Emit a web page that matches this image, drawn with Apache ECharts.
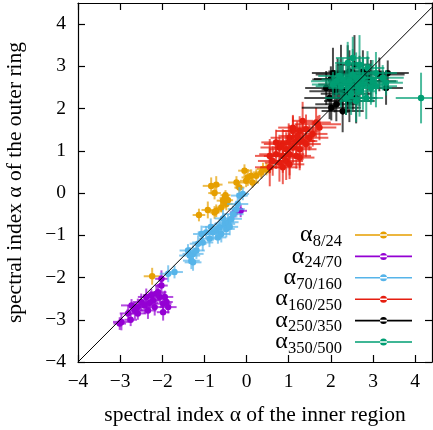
<!DOCTYPE html>
<html>
<head>
<meta charset="utf-8">
<script src="https://cdn.jsdelivr.net/npm/echarts@6/dist/echarts.min.js"></script>
<style>
  html, body { margin: 0; padding: 0; background: #fff; }
  #chart { width: 433px; height: 430px; }
</style>
</head>
<body>
<div id="chart"></div>
<script>
// each point: [x, y, x error, y error]
const a8_24 = [
  [-1.13, -0.52, 0.15, 0.15], [-0.92, -0.40, 0.15, 0.2], [-0.76, -0.46, 0.12, 0.15],
  [-0.72, -0.42, 0.15, 0.15], [-0.84, 0.17, 0.2, 0.2], [-0.72, 0.20, 0.15, 0.2],
  [-0.76, 0.0, 0.15, 0.15], [-0.56, -0.18, 0.15, 0.15], [-0.52, -0.12, 0.12, 0.15],
  [-0.48, -0.26, 0.15, 0.15], [-0.60, -0.34, 0.12, 0.12], [-0.44, -0.17, 0.12, 0.12],
  [-0.50, -0.05, 0.12, 0.12], [-0.24, 0.25, 0.2, 0.15], [-0.17, 0.13, 0.12, 0.15],
  [-0.05, 0.53, 0.15, 0.15], [0.03, 0.37, 0.15, 0.2], [0.11, 0.41, 0.12, 0.15],
  [-0.01, 0.29, 0.15, 0.15], [0.23, 0.41, 0.15, 0.15], [0.35, 0.49, 0.2, 0.15],
  [0.47, 0.57, 0.15, 0.15], [0.14, 0.25, 0.15, 0.12], [0.55, 0.62, 0.15, 0.15],
  [0.39, 0.57, 0.15, 0.15], [-2.24, -1.97, 0.2, 0.2]
]
const a24_70 = [
  [-0.28, -0.46, 0.12, 0.12], [-0.14, -0.42, 0.15, 0.15], [-2.02, -2.03, 0.15, 0.2],
  [-2.02, -2.19, 0.15, 0.15], [-2.14, -2.38, 0.2, 0.2], [-2.26, -2.42, 0.2, 0.15],
  [-2.38, -2.46, 0.2, 0.2], [-2.06, -2.46, 0.2, 0.15], [-1.94, -2.46, 0.2, 0.15],
  [-2.22, -2.54, 0.2, 0.2], [-2.50, -2.58, 0.2, 0.2], [-2.42, -2.66, 0.25, 0.2],
  [-2.58, -2.70, 0.2, 0.2], [-2.65, -2.78, 0.2, 0.2], [-2.73, -2.66, 0.25, 0.15],
  [-1.98, -2.62, 0.2, 0.2], [-1.86, -2.70, 0.2, 0.15], [-2.18, -2.70, 0.2, 0.2],
  [-1.98, -2.82, 0.15, 0.2], [-2.34, -2.78, 0.2, 0.2], [-2.81, -2.85, 0.2, 0.2],
  [-2.58, -2.85, 0.2, 0.15], [-2.75, -3.00, 0.15, 0.15], [-2.97, -3.05, 0.2, 0.2],
  [-3.01, -3.09, 0.15, 0.15], [-1.90, -2.58, 0.15, 0.15], [-2.30, -2.60, 0.2, 0.2],
  [-2.10, -2.35, 0.2, 0.2]
]
const a70_160 = [
  [-1.71, -1.87, 0.2, 0.15], [-1.86, -1.91, 0.2, 0.2], [-1.31, -1.60, 0.2, 0.2],
  [-1.27, -1.44, 0.25, 0.2], [-1.39, -1.36, 0.2, 0.15], [-1.19, -1.36, 0.2, 0.2],
  [-1.04, -1.17, 0.25, 0.2], [-1.07, -0.97, 0.2, 0.2], [-0.88, -1.08, 0.25, 0.2],
  [-0.80, -0.93, 0.25, 0.2], [-0.72, -0.89, 0.2, 0.2], [-0.64, -0.81, 0.25, 0.2],
  [-0.60, -0.97, 0.2, 0.2], [-0.52, -0.73, 0.25, 0.2], [-0.44, -0.69, 0.25, 0.2],
  [-0.36, -0.61, 0.25, 0.2], [-0.48, -0.85, 0.2, 0.2], [-0.68, -1.05, 0.2, 0.15],
  [-0.32, -0.50, 0.25, 0.2], [-0.24, -0.38, 0.2, 0.2], [-0.21, -0.26, 0.25, 0.2],
  [-1.35, -1.48, 0.25, 0.2], [-0.96, -0.93, 0.2, 0.15], [-1.27, -1.64, 0.2, 0.2],
  [-0.17, -0.06, 0.2, 0.2], [-0.09, -0.02, 0.15, 0.15], [-0.56, -0.60, 0.2, 0.2],
  [-0.40, -0.80, 0.2, 0.2], [-1.15, -1.20, 0.2, 0.2], [-0.85, -0.80, 0.2, 0.2]
]
const a160_250 = [
  [1.65, 1.67, 0.35, 0.35], [1.33, 1.71, 0.25, 0.45], [1.26, 1.47, 0.4, 0.35],
  [1.10, 1.47, 0.4, 0.35], [1.02, 1.31, 0.45, 0.3], [1.18, 1.23, 0.45, 0.4],
  [1.33, 1.23, 0.35, 0.45], [1.49, 1.31, 0.45, 0.3], [0.86, 1.16, 0.45, 0.35],
  [0.78, 1.08, 0.45, 0.3], [0.94, 1.04, 0.4, 0.4], [1.10, 1.08, 0.45, 0.35],
  [1.26, 1.04, 0.4, 0.45], [1.41, 1.16, 0.35, 0.3], [0.70, 0.92, 0.4, 0.35],
  [0.55, 0.88, 0.35, 0.4], [0.86, 0.88, 0.45, 0.4], [1.02, 0.92, 0.35, 0.5],
  [1.18, 0.88, 0.35, 0.3], [0.78, 0.72, 0.35, 0.45], [0.62, 0.76, 0.35, 0.35],
  [0.94, 0.76, 0.4, 0.45], [1.10, 1.55, 0.35, 0.3], [1.41, 1.51, 0.25, 0.35],
  [0.86, 0.61, 0.35, 0.4], [1.02, 0.68, 0.35, 0.35], [0.55, 0.61, 0.35, 0.45],
  [1.26, 0.84, 0.35, 0.3], [1.57, 1.40, 0.35, 0.3], [1.73, 1.55, 0.4, 0.3],
  [1.69, 1.63, 0.55, 0.2], [0.70, 1.20, 0.35, 0.3], [1.00, 1.20, 0.35, 0.45],
  [1.20, 1.35, 0.4, 0.35]
]
const a250_350 = [
  [2.05, 2.84, 0.5, 0.6], [2.24, 2.81, 0.6, 0.7], [2.44, 2.88, 0.5, 0.5],
  [3.35, 2.84, 0.5, 0.3], [3.15, 2.81, 0.6, 0.4], [2.09, 2.41, 0.6, 0.5],
  [1.97, 2.25, 0.6, 0.5], [2.28, 2.45, 0.5, 0.6], [2.01, 2.02, 0.7, 0.3],
  [2.13, 2.10, 0.5, 0.4], [2.36, 2.35, 0.6, 0.5], [2.52, 2.57, 0.5, 0.6],
  [2.68, 2.65, 0.6, 0.6], [2.87, 2.73, 0.5, 0.5], [2.95, 2.65, 0.6, 0.5],
  [2.60, 2.25, 0.5, 0.6], [2.44, 2.18, 0.6, 0.5], [2.20, 2.57, 0.5, 0.5],
  [1.89, 2.49, 0.5, 0.4], [2.76, 2.88, 0.5, 0.5], [2.56, 3.04, 0.4, 0.7],
  [2.16, 2.69, 0.6, 0.5], [3.31, 2.49, 0.4, 0.4], [2.28, 1.94, 0.5, 0.5],
  [2.00, 2.70, 0.4, 0.3], [2.40, 2.70, 0.5, 0.8]
]
const a350_500 = [
  [4.14, 2.25, 0.6, 0.6], [2.52, 3.20, 0.4, 0.5], [2.44, 2.65, 0.5, 0.5],
  [2.60, 2.73, 0.6, 0.6], [2.28, 2.69, 0.5, 0.5], [2.13, 2.65, 0.6, 0.4],
  [2.76, 2.57, 0.5, 0.6], [2.99, 2.65, 0.6, 0.5], [3.07, 2.53, 0.5, 0.5],
  [2.68, 2.41, 0.4, 0.6], [2.44, 2.49, 0.5, 0.5], [2.24, 2.53, 0.6, 0.5],
  [2.36, 2.61, 0.5, 0.4], [2.52, 2.81, 0.4, 0.6], [2.87, 2.96, 0.4, 0.4],
  [2.68, 3.04, 0.3, 0.7], [2.40, 3.08, 0.3, 0.5], [2.60, 2.18, 0.4, 0.5],
  [2.84, 2.25, 0.4, 0.5], [2.36, 2.25, 0.5, 0.4], [2.05, 2.57, 0.5, 0.3],
  [3.07, 2.84, 0.5, 0.5], [3.23, 2.73, 0.5, 0.3], [3.31, 2.61, 0.4, 0.3],
  [2.20, 2.77, 0.5, 0.4], [2.76, 2.73, 0.5, 0.5], [2.48, 2.35, 0.4, 0.5],
  [2.64, 2.57, 0.6, 0.5], [2.95, 2.49, 0.5, 0.4]
]
// 1:1 line
const diagX = [-4, 4.4]

const seriesNames = ['8/24', '24/70', '70/160', '160/250', '250/350', '350/500']
const seriesData = [a8_24, a24_70, a70_160, a160_250, a250_350, a350_500]
const seriesColors = ['#e69f00', '#9400d3', '#56b4e9', '#e51e10', '#000000', '#009e73']

const FONT = 'Liberation Serif'
const chart = echarts.init(document.getElementById('chart'))

// cross shaped error bars with a dot in the middle
function renderErr(params, api) {
  const x = api.value(0), y = api.value(1)
  const xe = api.value(2), ye = api.value(3)
  const c = api.coord([x, y])
  const l = api.coord([x - xe, y]), r = api.coord([x + xe, y])
  const t = api.coord([x, y + ye]), b = api.coord([x, y - ye])
  const color = api.visual('color')
  return {
    type: 'group',
    children: [
      { type: 'line', shape: { x1: l[0], y1: l[1], x2: r[0], y2: r[1] }, style: { stroke: color, lineWidth: 2, opacity: 0.7 } },
      { type: 'line', shape: { x1: t[0], y1: t[1], x2: b[0], y2: b[1] }, style: { stroke: color, lineWidth: 2, opacity: 0.7 } },
      { type: 'circle', shape: { cx: c[0], cy: c[1], r: 3.2 }, style: { fill: color } }
    ]
  }
}

function tickFmt(v) {
  return v < 0 ? '\u2212' + Math.abs(v) : String(v)
}

const axisCommon = {
  type: 'value',
  interval: 1,
  splitLine: { show: false },
  axisLine: { show: true, onZero: false, lineStyle: { color: '#000', width: 1.2 } },
  axisTick: { show: true, inside: true, length: 7, lineStyle: { color: '#000', width: 1.2 } }
}

const legendIcon = 'path://M0,3.2 L57,3.2 L57,4.8 L0,4.8 Z M25,4 A3.5,3.5 0 1 0 32,4 A3.5,3.5 0 1 0 25,4 Z'

const legends = seriesNames.map((n, i) => ({
  data: [n],
  right: 16,
  top: 218 + i * 21.4,
  align: 'right',
  itemWidth: 57,
  itemHeight: 7,
  icon: legendIcon,
  selectedMode: false,
  formatter: name => '{a|\u03b1}{s|' + name + '}',
  textStyle: {
    fontFamily: FONT,
    color: '#000',
    rich: {
      a: { fontFamily: FONT, fontSize: 24, lineHeight: 30, color: '#000' },
      s: { fontFamily: FONT, fontSize: 16.5, lineHeight: 16, verticalAlign: 'bottom', padding: [0, 8, 0, 0], color: '#000' }
    }
  }
}))

const series = seriesData.map((d, i) => ({
  name: seriesNames[i],
  type: 'custom',
  renderItem: renderErr,
  clip: true,
  encode: { x: 0, y: 1 },
  itemStyle: { color: seriesColors[i] },
  data: d
}))

series.push({
  type: 'line',
  data: diagX.map(v => [v, v]),
  symbol: 'none',
  silent: true,
  z: 5,
  lineStyle: { color: '#000', width: 1 }
})

chart.setOption({
  animation: false,
  textStyle: { fontFamily: FONT },
  grid: { left: 78, right: 1, top: 3, bottom: 68, outerBoundsMode: 'none' },
  legend: legends,
  xAxis: [
    Object.assign({}, axisCommon, {
      min: -4, max: 4.4, position: 'bottom',
      name: 'spectral index \u03b1 of the inner region',
      nameLocation: 'middle', nameGap: 42,
      nameTextStyle: { fontFamily: FONT, fontSize: 21.5, color: '#000' },
      axisLabel: { fontFamily: FONT, fontSize: 19.5, color: '#000', margin: 10, showMaxLabel: false, formatter: tickFmt }
    }),
    Object.assign({}, axisCommon, {
      min: -4, max: 4.4, position: 'top', axisLabel: { show: false }
    })
  ],
  yAxis: [
    Object.assign({}, axisCommon, {
      min: -4, max: 4.5, position: 'left',
      name: 'spectral index \u03b1 of the outer ring',
      nameLocation: 'middle', nameGap: 52,
      nameTextStyle: { fontFamily: FONT, fontSize: 21.5, color: '#000' },
      axisLabel: { fontFamily: FONT, fontSize: 19.5, color: '#000', margin: 12, showMaxLabel: false, formatter: tickFmt }
    }),
    Object.assign({}, axisCommon, {
      min: -4, max: 4.5, position: 'right', axisLabel: { show: false }
    })
  ],
  series: series
})
</script>
</body>
</html>
